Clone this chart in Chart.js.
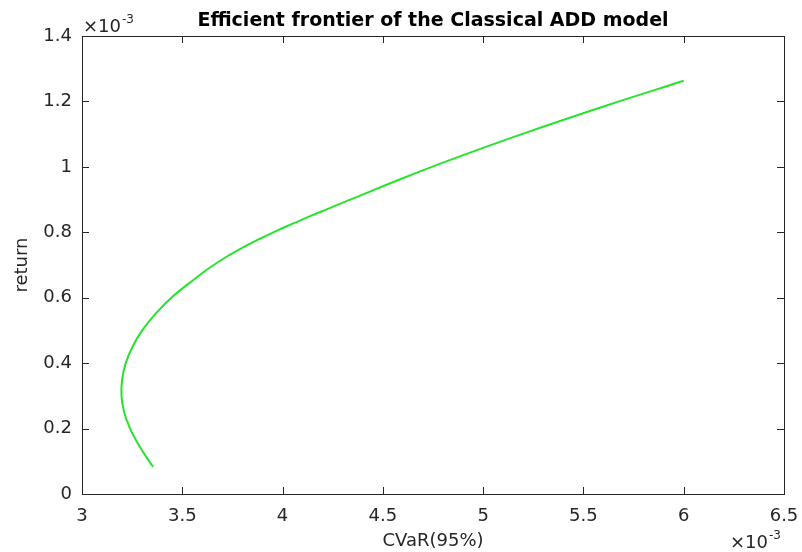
<!DOCTYPE html>
<html>
<head>
<meta charset="utf-8">
<script src="https://cdn.jsdelivr.net/npm/chart.js@4/dist/chart.umd.min.js"></script>
<style>
  html, body { margin: 0; padding: 0; background: #fff; }
  #wrap { width: 802px; height: 552px; }
</style>
</head>
<body>
<div id="wrap"><canvas id="frontier" width="802" height="552"></canvas></div>
<script>
// efficient frontier, both axes in units of 1e-3
const cvar = [3.355, 3.335, 3.283, 3.24, 3.21, 3.197, 3.2, 3.218, 3.252, 3.3, 3.365, 3.455, 3.557, 3.64, 3.723, 3.81, 3.89, 3.975, 4.057, 4.14, 4.223, 4.39, 4.59, 4.84, 5.207, 5.623, 6.0];
const ret  = [0.083, 0.1, 0.15, 0.2, 0.25, 0.3, 0.35, 0.4, 0.45, 0.5, 0.55, 0.605, 0.655, 0.693, 0.726, 0.756, 0.781, 0.806, 0.828, 0.85, 0.871, 0.913, 0.963, 1.022, 1.103, 1.189, 1.263];

const xTicks = [3, 3.5, 4, 4.5, 5, 5.5, 6, 6.5];
const yTicks = [0, 0.2, 0.4, 0.6, 0.8, 1, 1.2, 1.4];

const titulo = 'Efficient frontier of the Classical ADD model';
const rotuloX = 'CVaR(95%)';
const rotuloY = 'return';

const corEixo = '#262626';
const fonte = 'DejaVu Sans';

const pontos = cvar.map((v, i) => ({ x: v, y: ret[i] }));

// caixa, marcas internas, titulo e expoentes x10^-3 no estilo matlab
const moldura = {
    id: 'moldura',
    afterDraw(chart) {
        const ctx = chart.ctx;
        const a = chart.chartArea;
        const sx = chart.scales.x, sy = chart.scales.y;
        const tk = 7;
        ctx.save();
        ctx.strokeStyle = corEixo;
        ctx.lineWidth = 1;
        ctx.strokeRect(Math.round(a.left) + 0.5, Math.round(a.top) + 0.5,
            Math.round(a.right - a.left), Math.round(a.bottom - a.top));
        ctx.beginPath();
        xTicks.forEach(v => {
            const px = Math.round(sx.getPixelForValue(v)) + 0.5;
            ctx.moveTo(px, a.bottom); ctx.lineTo(px, a.bottom - tk);
            ctx.moveTo(px, a.top); ctx.lineTo(px, a.top + tk);
        });
        yTicks.forEach(v => {
            const py = Math.round(sy.getPixelForValue(v)) + 0.5;
            ctx.moveTo(a.left, py); ctx.lineTo(a.left + tk, py);
            ctx.moveTo(a.right, py); ctx.lineTo(a.right - tk, py);
        });
        ctx.stroke();

        ctx.fillStyle = '#000';
        ctx.font = 'bold 19px "' + fonte + '"';
        ctx.textAlign = 'center';
        ctx.textBaseline = 'alphabetic';
        ctx.fillText(titulo, (a.left + a.right) / 2, 26);

        const expoente = (x, y) => {
            ctx.fillStyle = corEixo;
            ctx.textAlign = 'left';
            ctx.font = '18px "' + fonte + '"';
            ctx.fillText('\u00d710', x, y);
            const w = ctx.measureText('\u00d710').width;
            ctx.font = '12px "' + fonte + '"';
            ctx.fillText('-3', x + w + 1, y - 9);
        };
        expoente(a.left + 1, 32);
        expoente(a.right - 54, 548);
        ctx.restore();
    }
};

new Chart(document.getElementById('frontier').getContext('2d'), {
    type: 'scatter',
    data: {
        datasets: [{
            data: pontos,
            showLine: true,
            borderColor: '#26e32e',
            borderWidth: 2,
            pointRadius: 0,
            tension: 0.4,
            fill: false
        }]
    },
    options: {
        responsive: false,
        animation: false,
        layout: { padding: { left: 0, right: 18, top: 36, bottom: 0 } },
        plugins: {
            legend: { display: false },
            title: { display: false },
            tooltip: { enabled: false }
        },
        scales: {
            x: {
                type: 'linear',
                min: 3, max: 6.5,
                afterBuildTicks: s => { s.ticks = xTicks.map(v => ({ value: v })); },
                afterFit: s => {
                    s.height = 58;
                    s.paddingLeft = 0;
                    s.paddingRight = 0;
                },
                grid: { display: false, drawTicks: false },
                border: { display: false },
                ticks: {
                    color: corEixo, padding: 12, maxRotation: 0,
                    font: { family: fonte, size: 18 },
                    callback: v => String(v)
                },
                title: {
                    display: true, text: rotuloX, color: corEixo,
                    font: { family: fonte, size: 18 },
                    padding: { top: 0, bottom: 0 }
                }
            },
            y: {
                type: 'linear',
                min: 0, max: 1.4,
                afterBuildTicks: s => { s.ticks = yTicks.map(v => ({ value: v })); },
                afterFit: s => {
                    s.width = 82;
                    s.paddingTop = 0;
                    s.paddingBottom = 0;
                },
                grid: { display: false, drawTicks: false },
                border: { display: false },
                ticks: {
                    color: corEixo, padding: 10,
                    font: { family: fonte, size: 18 },
                    callback: v => String(v)
                },
                title: {
                    display: true, text: rotuloY, color: corEixo,
                    font: { family: fonte, size: 18 },
                    padding: { top: 12, bottom: 0 }
                }
            }
        }
    },
    plugins: [moldura]
});
</script>
</body>
</html>
